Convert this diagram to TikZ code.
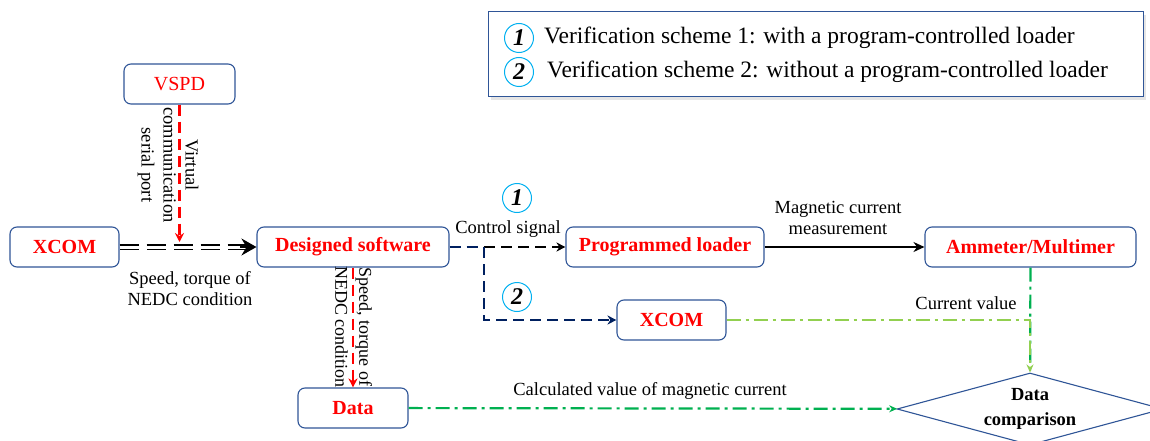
\documentclass[tikz,border=0pt]{standalone}
\usepackage{fontspec}
\setmainfont{Liberation Serif}
\usetikzlibrary{arrows.meta,shapes.geometric}
\definecolor{boxblue}{RGB}{47,85,151}
\definecolor{navyblue}{RGB}{0,32,96}
\definecolor{darkgreen}{RGB}{0,176,80}
\definecolor{lightgreen}{RGB}{146,208,80}
\definecolor{circblue}{RGB}{0,176,240}

\begin{document}
\begin{tikzpicture}
[x=1pt,y=-1pt,
unit/.style={draw=boxblue,line width=1.1pt,rounded corners=7pt,text=red,font=\fontsize{20}{22}\selectfont\bfseries,inner sep=0pt,minimum height=40pt},
lbl/.style={black,font=\fontsize{18.5}{21}\selectfont,align=center,inner sep=0pt},
numcirc/.style={draw=circblue,circle,line width=1pt,minimum size=29pt,inner sep=0pt,font=\fontsize{24}{24}\selectfont\bfseries\itshape},
redarrow/.style={-{Stealth[length=9pt,width=9pt]},red,line width=2.6pt,dash pattern=on 11pt off 6pt},
navyline/.style={navyblue,line width=2.6pt,dash pattern=on 11pt off 6pt},
blackdash/.style={-{Stealth[length=9pt,width=9pt]},black,line width=2.6pt,dash pattern=on 11pt off 6pt},
blackarrow/.style={-{Stealth[length=11pt,width=10pt]},black,line width=2.4pt},
dblline/.style={black,double,double distance=3pt,line width=1.6pt,dash pattern=on 19pt off 8pt},
greenline/.style={darkgreen,line width=2.2pt,dash pattern=on 14pt off 5pt on 3pt off 5pt},
lgreenline/.style={-{Stealth[length=8pt,width=7pt]},lightgreen,line width=2.2pt,dash pattern=on 14pt off 5pt on 3pt off 5pt}]

\useasboundingbox (0,0) rectangle (1150,441);
\clip (0,0) rectangle (1150,441);

% legend
\fill[black!10] (491,15) rectangle (1146,100);
\node[draw=boxblue,fill=white,line width=1pt,minimum width=655pt,minimum height=85pt,inner sep=0pt](legend) at (815.5,54.5){};
\node[numcirc](leg1) at (519,38){1};
\node[numcirc](leg2) at (519,72){2};
\node[lbl,anchor=west,font=\fontsize{23.5}{24}\selectfont](legtxt1) at (544,38){Verification scheme 1: with a program-controlled loader};
\node[lbl,anchor=west,font=\fontsize{23.5}{24}\selectfont](legtxt2) at (547,72){Verification scheme 2: without a program-controlled loader};

% boxes
\node[unit,minimum width=111pt,font=\fontsize{20}{22}\selectfont](vspd) at (179.5,84){VSPD};
\node[unit,minimum width=109pt](xcomA) at (64.5,247){XCOM};
\node[unit,minimum width=192pt](soft) at (353,247){Designed software};
\node[unit,minimum width=198pt](loader) at (665,247){Programmed loader};
\node[unit,minimum width=211pt](ammeter) at (1030.5,247){Ammeter/Multimer};
\node[unit,minimum width=109pt](xcomB) at (671.5,320){XCOM};
\node[unit,minimum width=110pt](data) at (353,408){Data};
\node[diamond,draw=boxblue,line width=1.1pt,fill=white,minimum width=266pt,minimum height=72pt,inner sep=0pt,aspect=3.7,align=center,font=\fontsize{18.5}{25}\selectfont\bfseries](cmp) at (1030,409){Data\\comparison};

% xcom -> designed software
\draw[dblline,shorten >=6pt] (xcomA) -- (soft);
\draw[-{Stealth[length=15pt,width=17pt,inset=5pt]},line width=1.6pt] ([xshift=-16pt]soft.west) -- (soft.west);
\node[lbl](lblspeed) at (190,289){Speed, torque of\\NEDC condition};

% vspd -> double line
\coordinate (vend) at (179.5,242);
\draw[redarrow] (vspd) -- (vend);
\node[lbl,rotate=-90,font=\fontsize{18.5}{22}\selectfont](lblvspd) at (168,165){Virtual\\communication\\serial port};

% designed software -> data
\draw[redarrow] (soft) -- (data);
\node[lbl,rotate=-90,font=\fontsize{18}{24}\selectfont](lbldata) at (353.5,327){Speed, torque of\\NEDC condition};

% scheme 1 and 2
\coordinate (split) at (484,247);
\draw[navyline] (soft) -- (split);
\draw[blackdash] (split) -- (loader);
\draw[navyline,-{Stealth[length=9pt,width=9pt]}] (split) |- (xcomB);
\node[numcirc](num1) at (517,198){1};
\node[numcirc](num2) at (517,297){2};
\node[lbl](lblctrl) at (508,229){Control signal};

% loader -> ammeter
\draw[blackarrow] (loader) -- (ammeter);
\node[lbl](lblmeas) at (838,218){Magnetic current\\measurement};

% current values -> comparison
\draw[greenline] (ammeter) -- (cmp);
\draw[lgreenline] (xcomB) -| (cmp);
\node[lbl](lblcur) at (966,303){Current value};

% data -> comparison
\draw[greenline,-{Stealth[length=8pt,width=7pt]}] (data) -- (cmp);
\node[lbl](lblcalc) at (650,391){Calculated value of magnetic current};

\end{tikzpicture}
\end{document}
